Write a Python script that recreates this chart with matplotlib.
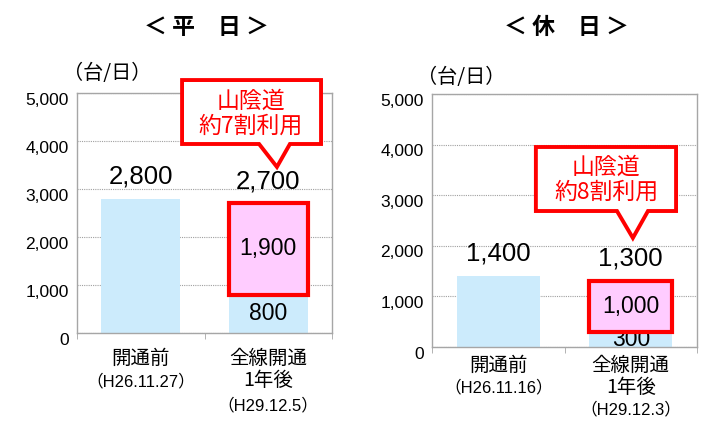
import matplotlib
matplotlib.use('Agg')
import matplotlib.pyplot as plt
from matplotlib.patches import Polygon
import matplotlib.transforms as mtransforms

plt.rcParams['font.family'] = ['Liberation Sans', 'Noto Sans CJK JP']
CJK = ['Noto Sans CJK JP', 'DejaVu Sans']

# ---- data ----
panel_titles = ['＜ 平\u3000日 ＞', '＜ 休\u3000日 ＞']
unit_label = '（台/日）'
cat_main = [['開通前'], ['全線開通', '1年後']]
dates_weekday = ['（H26.11.27）', '（H29.12.5）']
dates_holiday = ['（H26.11.16）', '（H29.12.3）']
before = [2800, 1400]          # 開通前 (weekday, holiday)
after_other = [800, 300]       # 全線開通1年後: other roads
after_sanin = [1900, 1000]     # 全線開通1年後: 山陰道
after_total = [2700, 1300]
callout_text = ['山陰道\n約7割利用', '山陰道\n約8割利用']
yticks = [0, 1000, 2000, 3000, 4000, 5000]
ytick_labels = ['0', '1,000', '2,000', '3,000', '4,000', '5,000']

BLUE = '#CCEBFC'
PINK = '#FFCCFF'
RED = '#FF0000'
GRAY = '#A6A6A6'

fig = plt.figure(figsize=(7.08, 4.30), dpi=100)

positions = [
    [77 / 708, 1 - 333 / 430, 255 / 708, 240 / 430],
    [432 / 708, 1 - 347 / 430, 265 / 708, 253 / 430],
]
title_x = [206 / 708, 566 / 708]
unit_pos = [(63 / 708, 1 - 73 / 430), (417 / 708, 1 - 77 / 430)]
callouts = [
    dict(x0=0.412, x1=0.957, y0=0.7875, y1=1.054, b0=0.714, b1=0.835, tx=0.784, ty=0.692,
         cx=0.682, cy=0.915),
    dict(x0=0.392, x1=0.921, y0=0.5375, y1=0.7905, b0=0.698, b1=0.815, tx=0.758, ty=0.431,
         cx=0.657, cy=0.662),
]
main_offsets = [[-18, -34], [-13, -29]]
date_offsets = [[-35, -52], [-29.5, -45]]

dates_all = [dates_weekday, dates_holiday]

for i in range(2):
    ax = fig.add_axes(positions[i])
    w = 0.62 if i == 0 else 0.63
    ax.bar(0, before[i], width=w, color=BLUE, zorder=2)
    ax.bar(1, after_other[i], width=w, color=BLUE, zorder=2)
    ax.bar(1, after_sanin[i], bottom=after_other[i], width=w, color=PINK,
           edgecolor=RED, linewidth=3.0, zorder=4)

    ax.set_xlim(-0.5, 1.5)
    ax.set_ylim(0, 5000)
    ax.set_yticks(yticks)
    ax.set_yticklabels(ytick_labels, fontsize=12.5)
    ax.tick_params(axis='y', length=0, pad=6)
    ax.set_xticks([0, 1])
    ax.set_xticklabels([])
    ax.tick_params(axis='x', which='major', length=0)
    ax.set_xticks([-0.5, 0.5, 1.5], minor=True)
    ax.tick_params(axis='x', which='minor', length=4, color=GRAY, direction='out')
    for s in ax.spines.values():
        s.set_color(GRAY)
        s.set_linewidth(1.0)
    ax.grid(axis='y', linestyle=(0, (1, 1)), color='#A0A0A0', linewidth=0.8, zorder=1)
    ax.set_axisbelow(True)

    off = mtransforms.ScaledTranslation(0, -4 / 72, fig.dpi_scale_trans)
    for lab in ax.get_yticklabels():
        lab.set_transform(lab.get_transform() + off)

    # top value labels
    ax.annotate(f'{before[i]:,}', xy=(0, before[i]), xytext=(0, 16), textcoords='offset points',
                ha='center', va='center', fontsize=18.5, zorder=5)
    ax.annotate(f'{after_total[i]:,}', xy=(1, after_total[i]), xytext=(0, 16), textcoords='offset points',
                ha='center', va='center', fontsize=18.5, zorder=5)
    # inner labels
    ax.text(1, after_other[i] + after_sanin[i] / 2, f'{after_sanin[i]:,}', ha='center', va='center',
            fontsize=16.5, zorder=6)
    ax.text(1, after_other[i] / 2, f'{after_other[i]:,}', ha='center', va='center',
            fontsize=16.5, zorder=3)

    # category labels
    for c in range(2):
        lines = cat_main[c]
        for k, line in enumerate(lines):
            ax.annotate(line, xy=(c, 0), xycoords=('data', 'axes fraction'),
                        xytext=(0, main_offsets[i][k]), textcoords='offset points',
                        ha='center', va='center', fontsize=14, family=CJK, annotation_clip=False)
        ax.annotate(dates_all[i][c], xy=(c, 0), xycoords=('data', 'axes fraction'),
                    xytext=(0, date_offsets[i][c]), textcoords='offset points',
                    ha='center', va='center', fontsize=12, annotation_clip=False)

    # callout
    g = callouts[i]
    verts = [(g['x0'], g['y1']), (g['x1'], g['y1']), (g['x1'], g['y0']), (g['b1'], g['y0']),
             (g['tx'], g['ty']), (g['b0'], g['y0']), (g['x0'], g['y0'])]
    poly = Polygon(verts, closed=True, transform=ax.transAxes, facecolor='white', edgecolor=RED,
                   linewidth=2.8, joinstyle='miter', clip_on=False, zorder=7)
    ax.add_patch(poly)
    ax.text(g['cx'], g['cy'], callout_text[i], transform=ax.transAxes, ha='center', va='center',
            fontsize=16.5, color=RED, linespacing=1.1, family=CJK, zorder=8)

    fig.text(title_x[i], 1 - 27 / 430, panel_titles[i], ha='center', va='center',
             fontsize=16.5, fontweight='bold', family=CJK)
    fig.text(unit_pos[i][0], unit_pos[i][1], unit_label, ha='left', va='center', fontsize=14.5,
             family=CJK)

fig.savefig('out.png', dpi=100)
